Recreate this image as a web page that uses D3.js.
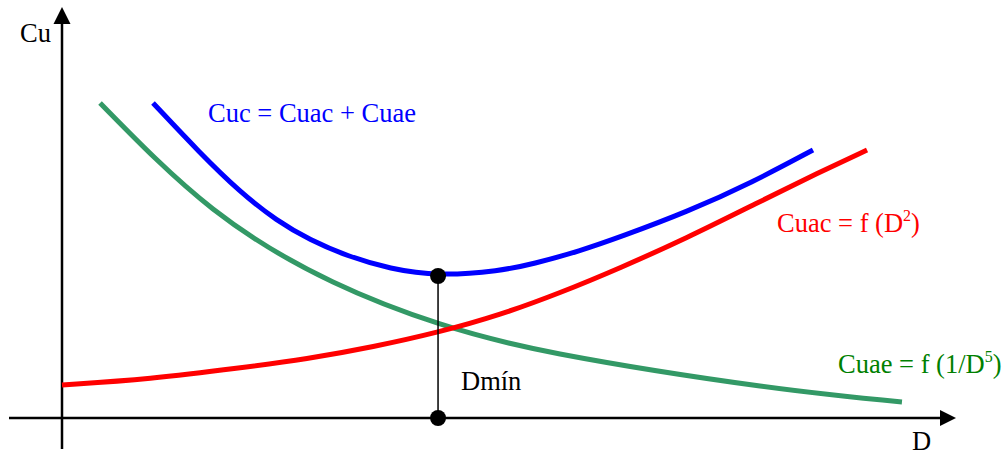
<!DOCTYPE html>
<html>
<head>
<meta charset="utf-8">
<script src="https://cdn.jsdelivr.net/npm/d3@7"></script>
<style>
  body { margin: 0; background: #fff; }
  text { font-family: "Liberation Serif", "Times New Roman", serif; }
</style>
</head>
<body>
<div id="chart"></div>
<script>
//// data (arbitrary units 0-100)
var cuacX = [0, 9.85, 19.93, 27.44, 34.83, 42.33, 49.05, 55.77, 62.49, 69.99, 77.38, 84.88, 90.15];
var cuacY = [8.09, 9.56, 12.25, 14.46, 17.40, 21.08, 25.25, 30.64, 36.76, 44.12, 52.21, 60.29, 65.69];

var cuaeX = [4.26, 16.91, 30.35, 42.33, 55.77, 78.16, 94.06];
var cuaeY = [77.21, 51.23, 33.33, 23.04, 15.69, 7.84, 3.92];

var cucX = [10.19, 15.45, 19.93, 24.08, 27.77, 31.91, 36.73, 42.11, 49.05, 52.74, 58.01, 62.49, 69.99, 77.38, 84.10];
var cucY = [77.21, 64.95, 55.39, 48.28, 43.63, 39.71, 36.52, 34.80, 36.03, 37.75, 40.93, 44.36, 50.49, 57.84, 65.69];

var dMin = 42.11, cucMin = 34.80;

//// chart
var width = 1008, height = 455;

var svg = d3.select("#chart")
  .append("svg")
    .attr("width", width)
    .attr("height", height);

var xScale = d3.scaleLinear().domain([0, 100]).range([62, 955]);
var yScale = d3.scaleLinear().domain([0, 100]).range([418, 10]);

var x0 = xScale(0), y0 = yScale(0);

//// axes with arrows
svg.append("line")
  .attr("x1", 9).attr("y1", y0)
  .attr("x2", 943).attr("y2", y0)
  .attr("stroke", "#000").attr("stroke-width", 2.5);
svg.append("path")
  .attr("d", "M956," + y0 + " L940," + (y0 - 8) + " L940," + (y0 + 8) + " Z")
  .attr("fill", "#000");

svg.append("line")
  .attr("x1", x0).attr("y1", 449)
  .attr("x2", x0).attr("y2", 20)
  .attr("stroke", "#000").attr("stroke-width", 2.5);
svg.append("path")
  .attr("d", "M" + x0 + ",7 L" + (x0 - 8.5) + ",24 L" + (x0 + 8.5) + ",24 Z")
  .attr("fill", "#000");

//// curves
function lineWith(curve) {
  return d3.line()
    .x(d => xScale(d[0]))
    .y(d => yScale(d[1]))
    .curve(curve);
}

var series = [
  { xs: cuaeX, ys: cuaeY, color: "#339966", curve: d3.curveNatural },
  { xs: cuacX, ys: cuacY, color: "#ff0000", curve: d3.curveBasis },
  { xs: cucX, ys: cucY, color: "#0000ff", curve: d3.curveBasis }
];

series.forEach(function(s) {
  svg.append("path")
    .datum(s.xs.map((x, i) => [x, s.ys[i]]))
    .attr("d", lineWith(s.curve))
    .attr("fill", "none")
    .attr("stroke", s.color)
    .attr("stroke-width", 5);
});

//// Dmin marker
svg.append("line")
  .attr("x1", xScale(dMin)).attr("y1", yScale(cucMin))
  .attr("x2", xScale(dMin)).attr("y2", yScale(0))
  .attr("stroke", "#000").attr("stroke-width", 1.5);

svg.selectAll(".dots")
  .data([cucMin, 0])
  .enter()
  .append("circle")
  .attr("class", "dots")
  .attr("cx", xScale(dMin))
  .attr("cy", d => yScale(d))
  .attr("r", 8)
  .attr("fill", "#000");

//// labels
function label(x, y, color, main, sup, tail) {
  var t = svg.append("text")
    .attr("x", x).attr("y", y)
    .attr("fill", color)
    .attr("font-size", 26.5);
  t.append("tspan").text(main);
  if (sup) {
    t.append("tspan").attr("dy", -11).attr("font-size", 16).text(sup);
    t.append("tspan").attr("dy", 11).text(tail);
  }
}

label(20, 42, "#000", "Cu");
label(912, 450, "#000", "D");
label(461, 390, "#000", "Dmín");
label(208, 122, "#0000ff", "Cuc = Cuac + Cuae");
label(777, 232, "#ff0000", "Cuac = f (D", "2", ")");
label(838, 373, "#008000", "Cuae = f (1/D", "5", ")");
</script>
</body>
</html>
